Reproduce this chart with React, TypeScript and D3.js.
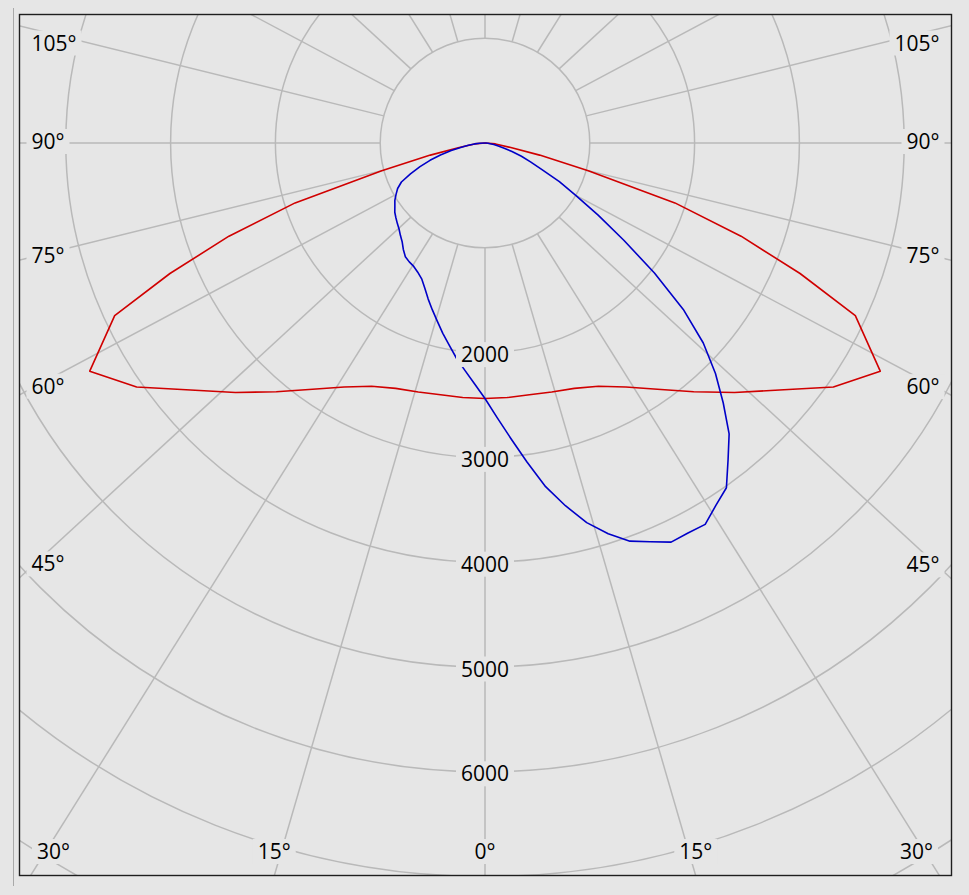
import React, { useEffect, useRef } from 'react';
import * as d3 from 'd3';

// ---------- data ----------
// C0-C180 plane (symmetric), gamma 0..90
const redGammas = [0, 5, 10, 15, 20, 25, 30, 35, 40, 45, 50, 55, 60, 65, 67.5, 70, 72.5, 75, 77.5, 80, 85, 90];
const redValues = [2438, 2438, 2439, 2460, 2492, 2561, 2689, 2868, 3098, 3367, 3667, 4058, 4355, 3899, 3254, 2600, 1900, 1020, 534, 250, 100, 0];

// C90-C270 plane, gamma -90 (left) .. 90 (right), 2.5 degree steps
const blueGammas = d3.range(-90, 90.01, 2.5);
const blueValues = [
  // -90 .. -2.5
  0, 50, 100, 160, 220, 330, 440, 550, 660, 770, 880, 940, 980, 1020, 1050, 1085, 1110, 1135,
  1160, 1195, 1230, 1280, 1325, 1345, 1360, 1390, 1430, 1500, 1585, 1670, 1760, 1860, 1960, 2074,
  2180, 2300,
  // 0
  2438,
  // 2.5 .. 90
  2620, 2830, 3070, 3330, 3545, 3750, 3910, 4043, 4118, 4202, 4195, 4202, 4100, 4016, 3810, 3624,
  3365, 3110, 2825, 2470, 2038, 1617, 1280, 1003, 800, 600, 470, 370, 270, 190, 130, 85, 50, 30,
  10, 0,
];

const ringValues = [1000, 2000, 3000, 4000, 5000, 6000, 7000, 8000, 9000];
const ringLabels = [2000, 3000, 4000, 5000, 6000];
const spokeAngles = d3.range(0, 360, 15);
const angleLabels = [0, 15, 30, 45, 60, 75, 90, 105];

// ---------- layout ----------
const W = 969;
const H = 895;
const CX = 485;
const CY = 143;
const FRAME = { x0: 19, y0: 14, x1: 952, y1: 876 };
const ASPECT = 1.085;
const BG = '#e6e6e6';
const GRID = '#b9b9b9';
const FONT = '"Segoe UI", "Open Sans", sans-serif';
const FS = 21;

export default function App() {
  const ref = useRef<SVGSVGElement>(null);

  useEffect(() => {
    const svg = d3.select(ref.current);
    svg.selectAll('*').remove();

    const r = d3.scaleLinear().domain([0, 1000]).range([0, 104.8]);
    const rad = (g: number) => (g * Math.PI) / 180;

    svg.append('rect').attr('width', W).attr('height', H).attr('fill', BG);

    // thin outer line on the left
    svg.append('line')
      .attr('x1', 13.5).attr('x2', 13.5).attr('y1', 8).attr('y2', 886)
      .attr('stroke', '#a9a9a9').attr('stroke-width', 1);

    const defs = svg.append('defs');
    defs.append('clipPath').attr('id', 'plotclip')
      .append('rect')
      .attr('x', FRAME.x0).attr('y', FRAME.y0)
      .attr('width', FRAME.x1 - FRAME.x0).attr('height', FRAME.y1 - FRAME.y0);

    const plot = svg.append('g').attr('clip-path', 'url(#plotclip)');

    // rings
    plot.append('g')
      .selectAll('circle')
      .data(ringValues)
      .join('circle')
      .attr('cx', CX).attr('cy', CY)
      .attr('r', (d) => r(d))
      .attr('fill', 'none')
      .attr('stroke', GRID)
      .attr('stroke-width', 1.5);

    // spokes (from the inner ring outward)
    const r1 = r(ringValues[0]);
    const spokeStart = (g: number) => [CX + r1 * Math.sin(rad(g)), CY + r1 * Math.cos(rad(g))];
    const spokeDir = (g: number) => [ASPECT * Math.sin(rad(g)), Math.cos(rad(g))];
    plot.append('g')
      .selectAll('line')
      .data(spokeAngles)
      .join('line')
      .attr('x1', (g) => spokeStart(g)[0])
      .attr('y1', (g) => spokeStart(g)[1])
      .attr('x2', (g) => spokeStart(g)[0] + 3000 * spokeDir(g)[0])
      .attr('y2', (g) => spokeStart(g)[1] + 3000 * spokeDir(g)[1])
      .attr('stroke', GRID)
      .attr('stroke-width', 1.5);

    // curves
    const radial = d3.lineRadial<{ g: number; v: number }>()
      .angle((d) => Math.PI - rad(d.g))
      .radius((d) => r(d.v));

    const redPts: { g: number; v: number }[] = [];
    for (let i = redGammas.length - 1; i >= 0; i--) redPts.push({ g: -redGammas[i], v: redValues[i] });
    for (let i = 1; i < redGammas.length; i++) redPts.push({ g: redGammas[i], v: redValues[i] });
    const bluePts = blueGammas.map((g, i) => ({ g, v: blueValues[i] }));

    const curves = plot.append('g').attr('transform', `translate(${CX},${CY})`);
    curves.append('path')
      .attr('d', radial(redPts) as string)
      .attr('fill', 'none')
      .attr('stroke', '#d00000')
      .attr('stroke-width', 1.6)
      .attr('stroke-linejoin', 'round');
    curves.append('path')
      .attr('d', radial(bluePts) as string)
      .attr('fill', 'none')
      .attr('stroke', '#0000c8')
      .attr('stroke-width', 1.6)
      .attr('stroke-linejoin', 'round');

    // frame
    svg.append('rect')
      .attr('x', FRAME.x0 + 0.5).attr('y', FRAME.y0 + 0.5)
      .attr('width', FRAME.x1 - FRAME.x0 - 1).attr('height', FRAME.y1 - FRAME.y0 - 1)
      .attr('fill', 'none')
      .attr('stroke', '#1e1e1e')
      .attr('stroke-width', 1.4);

    // labels with background boxes
    const labels = svg.append('g')
      .attr('font-family', FONT)
      .attr('font-size', FS)
      .attr('fill', '#000');

    const addLabel = (text: string, x: number, cyMid: number, anchor: string) => {
      const g = labels.append('g');
      const box = g.append('rect').attr('fill', BG);
      const t = g.append('text')
        .attr('x', x)
        .attr('y', cyMid + 7.5)
        .attr('text-anchor', anchor)
        .text(text);
      const len = (t.node() as SVGTextElement).getComputedTextLength();
      const left = anchor === 'start' ? x : anchor === 'end' ? x - len : x - len / 2;
      box.attr('x', left - 5).attr('y', cyMid - 12.5).attr('width', len + 10).attr('height', 25);
    };

    ringLabels.forEach((v) => addLabel(String(v), CX, CY + r(v) + 2, 'middle'));

    angleLabels.forEach((g) => {
      const sides = g === 0 ? [1] : [-1, 1];
      sides.forEach((s) => {
        const [px, py] = spokeStart(s * g);
        const [dx, dy] = spokeDir(s * g);
        const tBottom = dy > 1e-9 ? (FRAME.y1 - py) / dy : Infinity;
        const xSide = s < 0 ? FRAME.x0 : FRAME.x1;
        const tSide = Math.abs(dx) > 1e-9 ? (xSide - px) / dx : Infinity;
        const text = `${g}°`;
        if (tBottom <= tSide) {
          const hx = px + tBottom * dx;
          const x = Math.max(53.5, Math.min(916.5, hx));
          addLabel(text, x, 851.5, 'middle');
        } else {
          const xs = s < 0 ? FRAME.x0 + 14 : FRAME.x1 - 14;
          const y = py + ((xs - px) / dx) * dy;
          const yc = Math.max(43, y - 1.5);
          if (s < 0) addLabel(text, 31.5, yc, 'start');
          else addLabel(text, 939.5, yc, 'end');
        }
      });
    });
  }, []);

  return (
    <svg
      ref={ref}
      width={W}
      height={H}
      style={{ position: 'absolute', left: 0, top: 0, display: 'block' }}
    />
  );
}
